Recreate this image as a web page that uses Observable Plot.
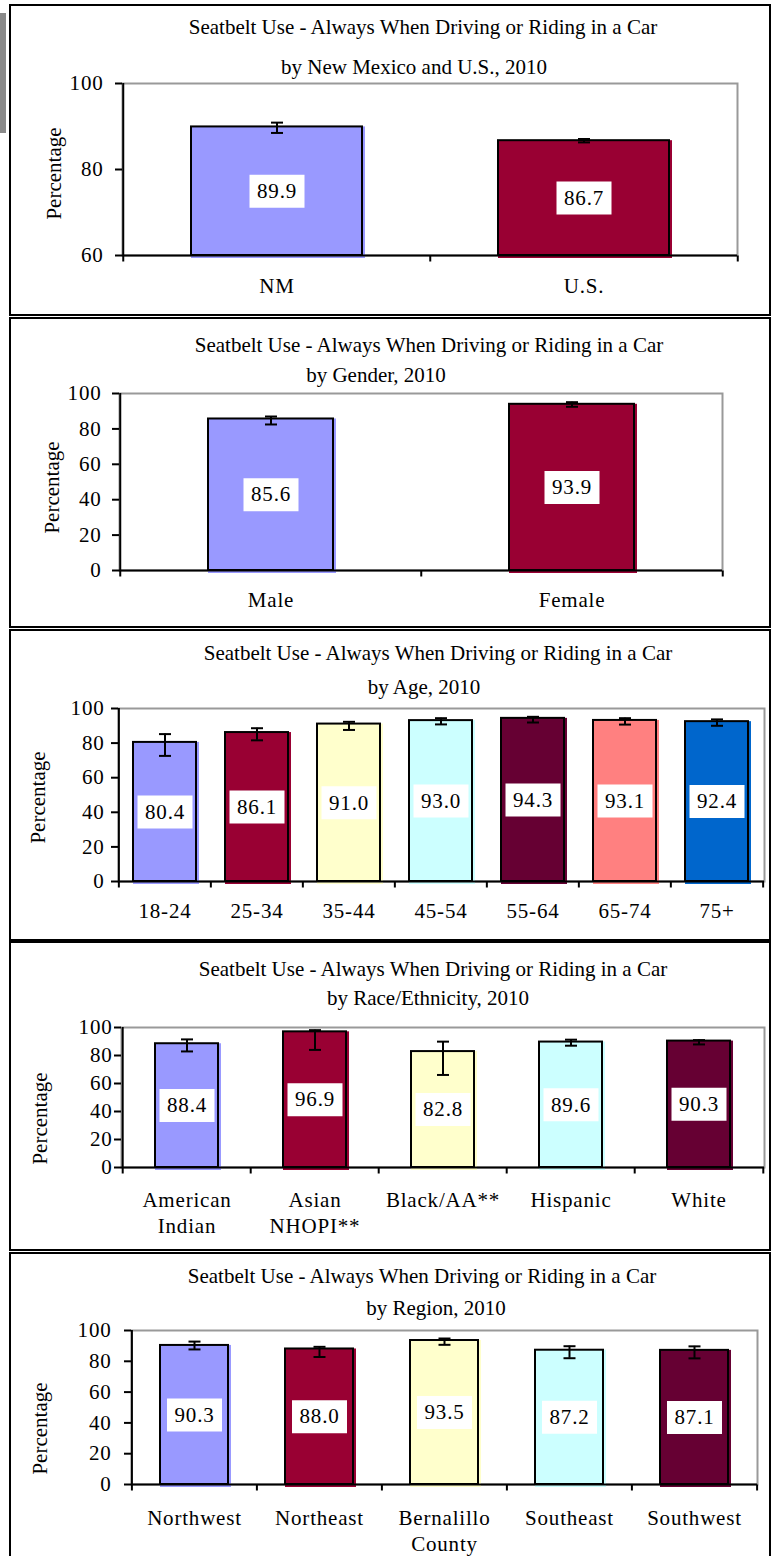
<!DOCTYPE html>
<html><head><meta charset="utf-8">
<script src="https://cdn.jsdelivr.net/npm/d3@7"></script>
<script src="https://cdn.jsdelivr.net/npm/@observablehq/plot@0.6"></script>
<style>
html,body{margin:0;padding:0;background:#fff;}
body{position:relative;width:773px;height:1556px;overflow:hidden;font-family:"Liberation Serif","Times New Roman",serif;color:#000;}
.panel{position:absolute;left:9px;width:762px;box-sizing:border-box;border:2px solid #000;}
.title{position:absolute;font-size:21px;line-height:1;white-space:nowrap;transform:translate(-50%,-50%);}
.chart{position:absolute;left:0;}
.scan{position:absolute;left:0;top:13px;width:6px;height:120px;background:#8a8a8a;}
</style>
</head><body>
<div class="scan"></div>
<script>
// ---- data ----
const mainTitle = "Seatbelt Use - Always When Driving or Riding in a Car";

const nmCats = ["NM", "U.S."];
const nmValues = [89.9, 86.7];
const nmLow = [88.5, 86.3];
const nmHigh = [90.9, 87.1];

const genderCats = ["Male", "Female"];
const genderValues = [85.6, 93.9];
const genderLow = [82.5, 92.5];
const genderHigh = [87.0, 95.1];

const ageCats = ["18-24", "25-34", "35-44", "45-54", "55-64", "65-74", "75+"];
const ageValues = [80.4, 86.1, 91.0, 93.0, 94.3, 93.1, 92.4];
const ageLow = [72.6, 81.6, 87.6, 90.8, 91.9, 90.7, 90.0];
const ageHigh = [85.2, 88.6, 92.3, 94.4, 95.2, 94.4, 93.7];

const raceCats = ["American\nIndian", "Asian\nNHOPI**", "Black/AA**", "Hispanic", "White"];
const raceValues = [88.4, 96.9, 82.8, 89.6, 90.3];
const raceLow = [82.9, 84.0, 66.1, 87.0, 87.9];
const raceHigh = [91.5, 98.1, 89.9, 91.3, 91.0];

const regionCats = ["Northwest", "Northeast", "Bernalillo\nCounty", "Southeast", "Southwest"];
const regionValues = [90.3, 88.0, 93.5, 87.2, 87.1];
const regionLow = [87.7, 82.8, 90.7, 82.0, 81.9];
const regionHigh = [92.8, 89.4, 94.8, 89.8, 89.7];

const ticksNM = [60, 80, 100];
const ticksPct = [0, 20, 40, 60, 80, 100];

const colorsTwo = ["#9999FF", "#990033"];
const colorsAge = ["#9999FF", "#990033", "#FFFFCC", "#CCFFFF", "#660033", "#FF8080", "#0066CC"];
const colorsFive = ["#9999FF", "#990033", "#FFFFCC", "#CCFFFF", "#660033"];

// ---- layout (page pixel positions) ----
const panels = [
  {cats: nmCats, values: nmValues, low: nmLow, high: nmHigh, colors: colorsTwo, ticks: ticksNM, domain: [60, 100],
   sub: "by New Mexico and U.S., 2010", boxTop: 4, boxH: 312, t1: [423, 27], t2: [414, 67],
   plot: {left: 122, right: 737, top: 83, bottom: 255}, pad: 0.444, tickPad: 12, labelDy: 20, ylab: [54, 173]},
  {cats: genderCats, values: genderValues, low: genderLow, high: genderHigh, colors: colorsTwo, ticks: ticksPct, domain: [0, 100],
   sub: "by Gender, 2010", boxTop: 317, boxH: 311, t1: [429, 345], t2: [376, 375],
   plot: {left: 119, right: 722, top: 393, bottom: 570}, pad: 0.586, tickPad: 11, labelDy: 19, ylab: [52, 487]},
  {cats: ageCats, values: ageValues, low: ageLow, high: ageHigh, colors: colorsAge, ticks: ticksPct, domain: [0, 100],
   sub: "by Age, 2010", boxTop: 629, boxH: 312, t1: [438, 653], t2: [424, 687],
   plot: {left: 118, right: 764, top: 708, bottom: 881}, pad: 0.31, tickPad: 7, labelDy: 19, ylab: [38, 797]},
  {cats: raceCats, values: raceValues, low: raceLow, high: raceHigh, colors: colorsFive, ticks: ticksPct, domain: [0, 100],
   sub: "by Race/Ethnicity, 2010", boxTop: 941, boxH: 310, t1: [433, 969], t2: [428, 998],
   plot: {left: 121, right: 764, top: 1027, bottom: 1167}, pad: 0.51, tickPad: 2, labelDy: 22, ylab: [40, 1118]},
  {cats: regionCats, values: regionValues, low: regionLow, high: regionHigh, colors: colorsFive, ticks: ticksPct, domain: [0, 100],
   sub: "by Region, 2010", boxTop: 1252, boxH: 330, t1: [422, 1276], t2: [436, 1308],
   plot: {left: 131, right: 757, top: 1330, bottom: 1484}, pad: 0.46, tickPad: 13, labelDy: 23, ylab: [40, 1428]}
];

// custom symbols
const vline = len => ({draw(ctx) { ctx.moveTo(0, 0); ctx.lineTo(0, len); }});
const hline = half => ({draw(ctx) { ctx.moveTo(-half, 0); ctx.lineTo(half, 0); }});
const boxSym = (w, h) => ({draw(ctx) { ctx.rect(-w / 2, -h / 2, w, h); }});

const FONT = '"Liberation Serif","Times New Roman",serif';

function makePanel(cfg) {
  const box = document.createElement("div");
  box.className = "panel";
  box.style.top = cfg.boxTop + "px";
  box.style.height = cfg.boxH + "px";
  document.body.appendChild(box);

  for (const [txt, pos] of [[mainTitle, cfg.t1], [cfg.sub, cfg.t2]]) {
    const t = document.createElement("div");
    t.className = "title";
    t.textContent = txt;
    t.style.left = pos[0] + "px";
    t.style.top = pos[1] + "px";
    document.body.appendChild(t);
  }

  const n = cfg.cats.length;
  const ymin = cfg.domain[0];
  const rows = cfg.cats.map((c, i) => ({
    cat: c, value: cfg.values[i], low: cfg.low[i], high: cfg.high[i], mid: (cfg.values[i] + ymin) / 2
  }));
  const W = 773, mt = 12, mb = 90;
  const ml = cfg.plot.left, mr = W - cfg.plot.right;
  const H = cfg.plot.bottom - cfg.plot.top + mt + mb;
  const step = (cfg.plot.right - cfg.plot.left) / n;
  const frameMid = (cfg.plot.top + cfg.plot.bottom) / 2;

  const svg = Plot.plot({
    width: W, height: H,
    marginLeft: ml, marginRight: mr, marginTop: mt, marginBottom: mb,
    style: {fontFamily: FONT, fontSize: "21px", background: "transparent", overflow: "visible", color: "black", letterSpacing: "0.8px"},
    x: {type: "band", domain: cfg.cats, paddingInner: cfg.pad, paddingOuter: cfg.pad / 2, axis: null},
    y: {domain: cfg.domain, axis: null},
    color: {domain: cfg.cats, range: cfg.colors},
    marks: [
      Plot.frame({stroke: "#999", strokeWidth: 2}),
      Plot.barY(rows, {x: "cat", y1: ymin, y2: "value", fill: "cat", insetRight: -3, insetBottom: -3}),
      Plot.barY(rows, {x: "cat", y1: ymin, y2: "value", fill: "none", stroke: "black", strokeWidth: 2}),
      Plot.ruleX([cfg.cats[0]], {x: d => d, dx: -step / 2, stroke: "black", strokeWidth: 2}),
      Plot.ruleY([ymin], {stroke: "black", strokeWidth: 2}),
      Plot.dot(cfg.cats, {x: d => d, y: () => ymin, dx: -step / 2, symbol: vline(6), fill: "none", stroke: "black", strokeWidth: 2}),
      Plot.dot([cfg.cats[n - 1]], {x: d => d, y: () => ymin, dx: step / 2, symbol: vline(6), fill: "none", stroke: "black", strokeWidth: 2}),
      Plot.ruleX(rows, {x: "cat", y1: "low", y2: "high", stroke: "black", strokeWidth: 2}),
      Plot.dot(rows, {x: "cat", y: "low", symbol: hline(6), fill: "none", stroke: "black", strokeWidth: 2}),
      Plot.dot(rows, {x: "cat", y: "high", symbol: hline(6), fill: "none", stroke: "black", strokeWidth: 2}),
      Plot.dot(rows, {x: "cat", y: "mid", symbol: boxSym(55, 33), fill: "white", stroke: "none"}),
      Plot.text(rows, {x: "cat", y: "mid", text: d => d.value.toFixed(1), fontSize: 21, fill: "black"}),
      Plot.axisY({ticks: cfg.ticks, tickSize: 7, tickPadding: cfg.tickPad, fontSize: 21, strokeWidth: 2, tickFormat: d => String(d), label: null}),
      Plot.text(rows, {x: "cat", y: () => ymin, dy: cfg.labelDy, text: "cat", lineAnchor: "top", lineHeight: 1.2, fontSize: 21, fill: "black"}),
      Plot.text(["Percentage"], {frameAnchor: "left", textAnchor: "middle", rotate: -90, dx: cfg.ylab[0] - ml, dy: cfg.ylab[1] - frameMid, fontSize: 21, fill: "black"})
    ]
  });
  d3.select(svg).selectAll("text").filter(function() { return this.textContent === "Percentage"; }).style("letter-spacing", "0px");

  const holder = document.createElement("div");
  holder.className = "chart";
  holder.style.top = (cfg.plot.top - mt) + "px";
  holder.appendChild(svg);
  document.body.appendChild(holder);
}

panels.forEach(makePanel);
</script>
</body></html>
